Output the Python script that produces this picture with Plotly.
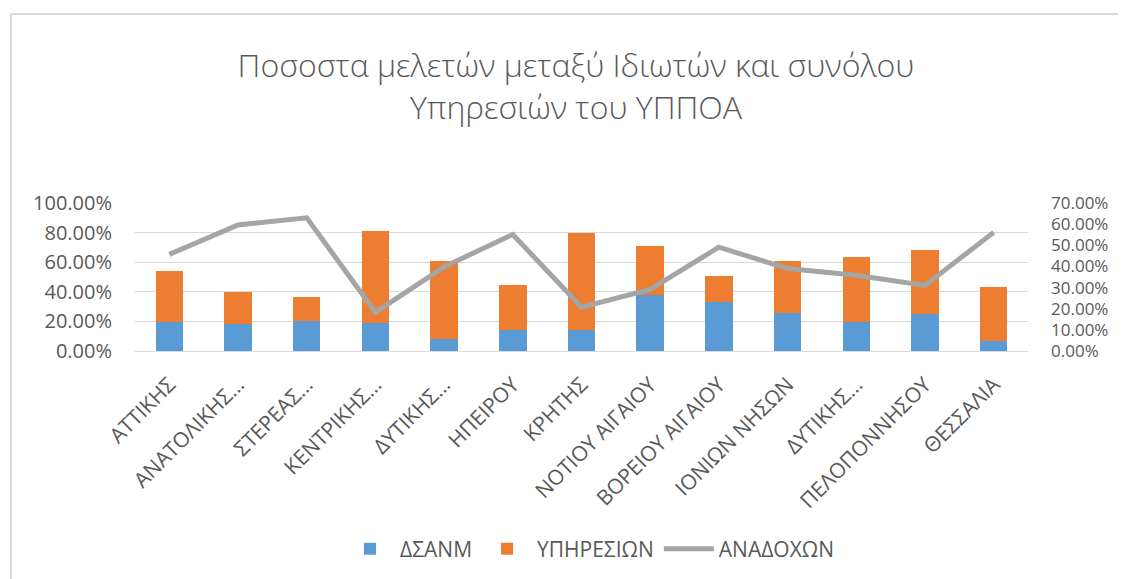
import plotly.graph_objects as go

regions = ["ΑΤΤΙΚΗΣ", "ΑΝΑΤΟΛΙΚΗΣ ΜΑΚΕΔΟΝΙΑΣ ΘΡΑΚΗΣ", "ΣΤΕΡΕΑΣ ΕΛΛΑΔΑΣ", "ΚΕΝΤΡΙΚΗΣ ΜΑΚΕΔΟΝΙΑΣ",
           "ΔΥΤΙΚΗΣ ΜΑΚΕΔΟΝΙΑΣ", "ΗΠΕΙΡΟΥ", "ΚΡΗΤΗΣ", "ΝΟΤΙΟΥ ΑΙΓΑΙΟΥ", "ΒΟΡΕΙΟΥ ΑΙΓΑΙΟΥ",
           "ΙΟΝΙΩΝ ΝΗΣΩΝ", "ΔΥΤΙΚΗΣ ΕΛΛΑΔΑΣ", "ΠΕΛΟΠΟΝΝΗΣΟΥ", "ΘΕΣΣΑΛΙΑ"]
tick_labels = ["ΑΤΤΙΚΗΣ", "ΑΝΑΤΟΛΙΚΗΣ…", "ΣΤΕΡΕΑΣ…", "ΚΕΝΤΡΙΚΗΣ…", "ΔΥΤΙΚΗΣ…", "ΗΠΕΙΡΟΥ",
               "ΚΡΗΤΗΣ", "ΝΟΤΙΟΥ ΑΙΓΑΙΟΥ", "ΒΟΡΕΙΟΥ ΑΙΓΑΙΟΥ", "ΙΟΝΙΩΝ ΝΗΣΩΝ", "ΔΥΤΙΚΗΣ…",
               "ΠΕΛΟΠΟΝΝΗΣΟΥ", "ΘΕΣΣΑΛΙΑ"]

dsanm = [0.194, 0.182, 0.203, 0.190, 0.081, 0.140, 0.140, 0.379, 0.330, 0.257, 0.194, 0.249, 0.070]
ypiresion = [0.348, 0.220, 0.164, 0.620, 0.526, 0.307, 0.657, 0.332, 0.178, 0.352, 0.444, 0.436, 0.363]
anadoxon = [0.457, 0.596, 0.630, 0.183, 0.398, 0.551, 0.207, 0.291, 0.491, 0.390, 0.358, 0.310, 0.561]

left_ticks = [0, 0.2, 0.4, 0.6, 0.8, 1.0]
right_ticks = [0, 0.1, 0.2, 0.3, 0.4, 0.5, 0.6, 0.7]

FONT = "Open Sans"
TXT = "#595959"
GRID = "#D9D9D9"

fig = go.Figure()
fig.add_trace(go.Bar(x=regions, y=dsanm, name="ΔΣΑΝΜ", marker_color="#5B9BD5",
                     marker_line_width=0))
fig.add_trace(go.Bar(x=regions, y=ypiresion, name="ΥΠΗΡΕΣΙΩΝ", marker_color="#ED7D31",
                     marker_line_width=0))
fig.add_trace(go.Scatter(x=regions, y=anadoxon, name="ΑΝΑΔΟΧΩΝ", mode="lines",
                         line=dict(color="#A5A5A5", width=5), yaxis="y2"))

# page body has an 8px offset; positions below are in figure pixels
OFF = 8
W, H = 1126, 579
L, T = 135 - OFF, 203 - OFF
pw, ph = 893, 148
R = W - L - pw
B = H - T - ph


def px_x(x):
    return (x - OFF - L) / pw


def px_y(y):
    return (T + ph - (y - OFF)) / ph


fig.update_layout(
    width=W, height=H,
    margin=dict(l=L, r=R, t=T, b=B),
    paper_bgcolor="white", plot_bgcolor="white",
    barmode="stack", bargap=0.6,
    font=dict(family=FONT, color=TXT, size=20),
    title=dict(text="Ποσοστα μελετών μεταξύ Ιδιωτών και συνόλου<br>Υπηρεσιών του ΥΠΠΟΑ",
               x=(576 - OFF) / W, xanchor="center", y=1 - (77 - OFF) / H, yanchor="middle",
               font=dict(family=FONT, size=32, color=TXT, weight=300)),
    xaxis=dict(tickmode="array", tickvals=regions, ticktext=tick_labels, tickangle=-45,
               showline=True, linecolor=GRID, linewidth=1, showgrid=False,
               ticklabelstandoff=12,
               tickfont=dict(size=21, color=TXT), ticks=""),
    yaxis=dict(range=[0, 1], tickvals=left_ticks, tickformat=".2%", showgrid=True,
               gridcolor=GRID, gridwidth=1, zeroline=False, ticklabelstandoff=22,
               tickfont=dict(size=20, color=TXT)),
    yaxis2=dict(range=[0, 0.7], tickvals=right_ticks, tickformat=".2%", overlaying="y",
                side="right", showgrid=False, zeroline=False, ticklabelstandoff=22,
                tickfont=dict(size=17, color=TXT)),
    legend=dict(orientation="h", x=px_x(590), xanchor="center", y=px_y(549), yanchor="middle",
                font=dict(size=21, color=TXT), traceorder="normal", itemwidth=50,
                bgcolor="rgba(0,0,0,0)"),
    shapes=[dict(type="rect", xref="paper", yref="paper",
                 x0=px_x(11), x1=px_x(1140), y0=px_y(595), y1=px_y(14),
                 line=dict(color=GRID, width=2), fillcolor="rgba(0,0,0,0)", layer="below")],
)

fig.write_html("out.html")
